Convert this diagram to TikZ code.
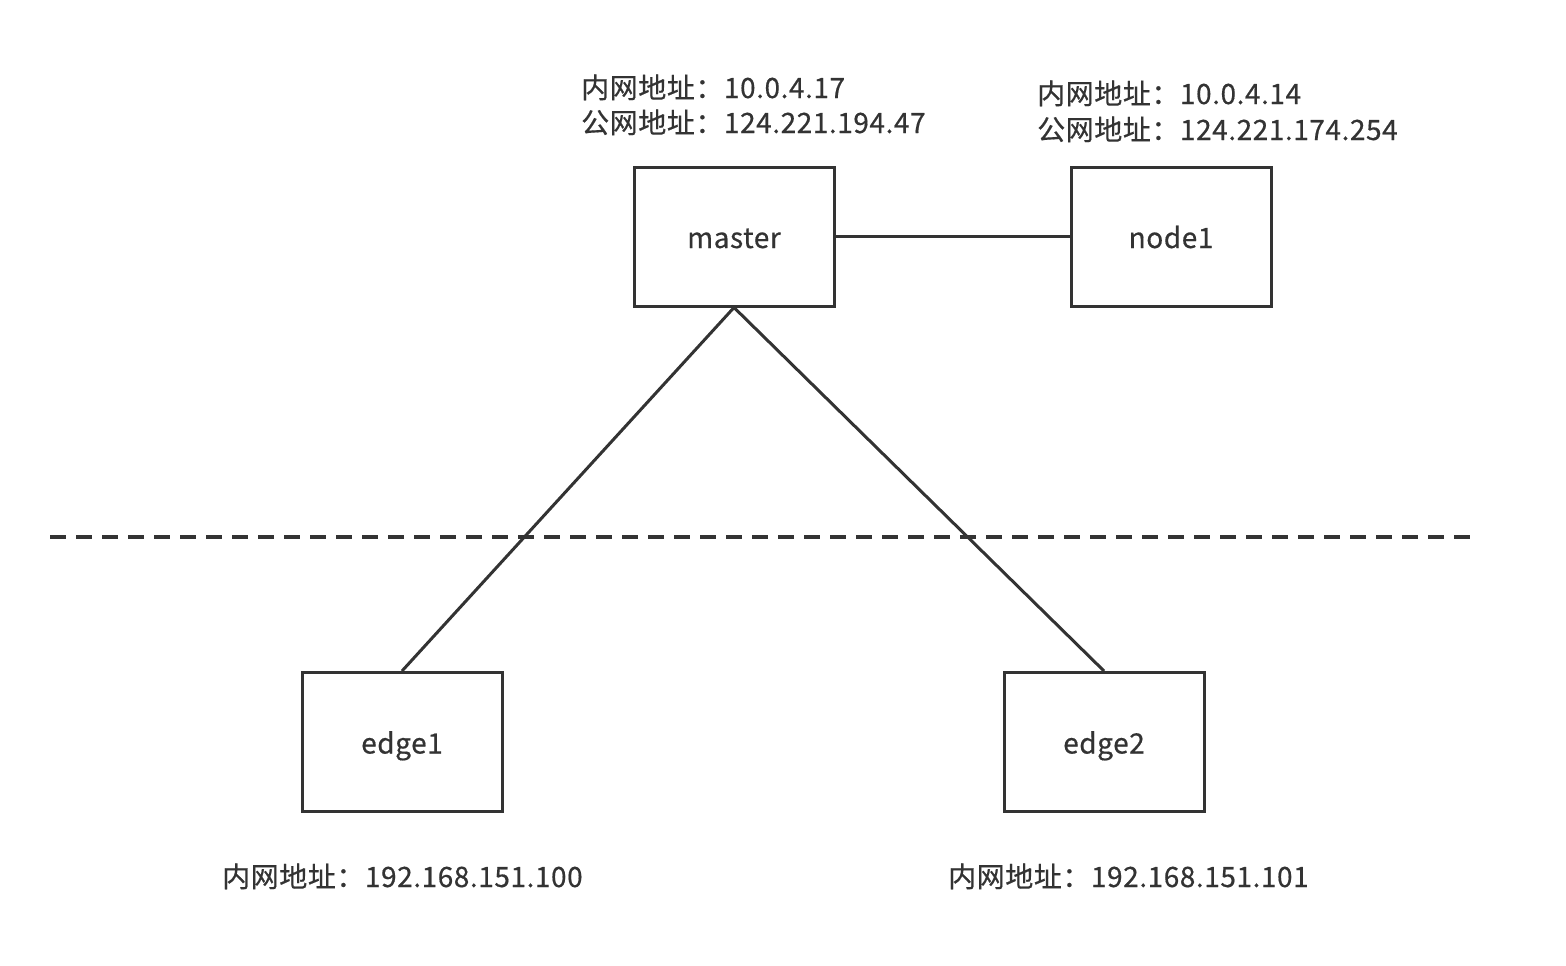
\documentclass[tikz,border=0pt]{standalone}
\usepackage{fontspec}
\setmainfont{Noto Sans CJK SC}[FakeBold=0.5,LetterSpace=2]
\definecolor{ink}{HTML}{333333}
\begin{document}
\begin{tikzpicture}[x=1pt,y=-1pt,
  box/.style={draw=ink,line width=3pt,minimum width=200pt,minimum height=139pt,inner sep=0pt,
    text height=23pt,text depth=0pt,font=\fontsize{28}{34}\selectfont,text=ink},
  lbl/.style={anchor=base west,inner sep=0pt,font=\fontsize{28}{34}\selectfont,text=ink},
  link/.style={draw=ink,line width=3pt},
  sep/.style={draw=ink,line width=4pt,dash pattern=on 16pt off 10pt}]
\useasboundingbox (0,0) rectangle (1566,966);
\node[box] (master) at (734,236.5) {master};
\node[box] (node1) at (1171,236.5) {node1};
\node[box] (edge1) at (402,742) {edge1};
\node[box] (edge2) at (1104,742) {edge2};
\node[lbl] (m1) at (581,98) {内网地址：10.0.4.17};
\node[lbl] (m2) at (581,133) {公网地址：124.221.194.47};
\node[lbl] (n1) at (1037,104) {内网地址：10.0.4.14};
\node[lbl] (n2) at (1037,140) {公网地址：124.221.174.254};
\node[lbl] (e1) at (222,887) {内网地址：192.168.151.100};
\node[lbl] (e2) at (948,887) {内网地址：192.168.151.101};
\draw[link] (master.east) -- (node1.west);
\draw[link] (master.south) -- (edge1.north);
\draw[link] (master.south) -- (edge2.north);
\coordinate (dl) at (50,537);
\coordinate (dr) at (1472,537);
\draw[sep] (dl) -- (dr);
\end{tikzpicture}
\end{document}
